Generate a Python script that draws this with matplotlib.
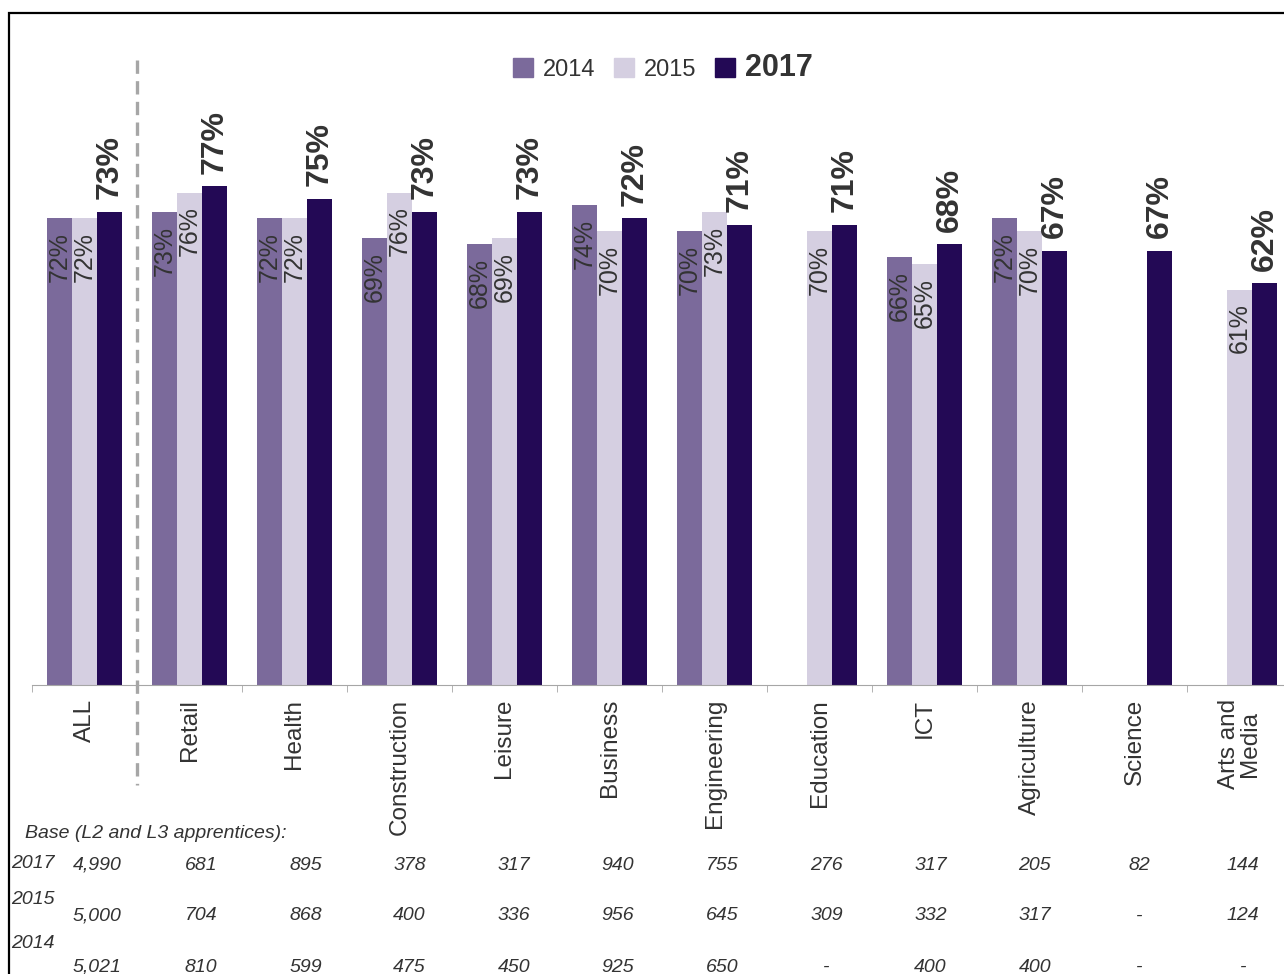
import matplotlib
matplotlib.use("Agg")
import matplotlib.pyplot as plt
import numpy as np
from matplotlib.patches import Rectangle, Patch

plt.rcParams['font.family'] = ['Liberation Sans', 'DejaVu Sans']

# data
categories = ['ALL', 'Retail', 'Health', 'Construction', 'Leisure', 'Business',
              'Engineering', 'Education', 'ICT', 'Agriculture', 'Science', 'Arts and\nMedia']
pct_2014 = [72, 73, 72, 69, 68, 74, 70, np.nan, 66, 72, np.nan, np.nan]
pct_2015 = [72, 76, 72, 76, 69, 70, 73, 70, 65, 70, np.nan, 61]
pct_2017 = [73, 77, 75, 73, 73, 72, 71, 71, 68, 67, 67, 62]
base_2017 = ['4,990', '681', '895', '378', '317', '940', '755', '276', '317', '205', '82', '144']
base_2015 = ['5,000', '704', '868', '400', '336', '956', '645', '309', '332', '317', '-', '124']
base_2014 = ['5,021', '810', '599', '475', '450', '925', '650', '-', '400', '400', '-', '-']

c14, c15, c17 = '#7b6a9b', '#d5cfe1', '#230955'
txt = '#333333'

W, H = 1284, 974
fig = plt.figure(figsize=(W / 100, H / 100), dpi=100)

# black frame, runs off the right and bottom edges
fig.patches.append(Rectangle((9 / W, -0.05), 1.1, 1 - 13 / H + 0.05, transform=fig.transFigure,
                             fill=False, edgecolor='black', linewidth=1.6, zorder=0))

ax = fig.add_axes([32 / W, 1 - 685 / H, 1260 / W, 648 / H])
x = np.arange(len(categories))
bw = 0.238

ax.bar(x - bw, pct_2014, bw, color=c14)
ax.bar(x, pct_2015, bw, color=c15)
ax.bar(x + bw, pct_2017, bw, color=c17)

for xs, vals in ((x - bw, pct_2014), (x, pct_2015)):
    for xi, v in zip(xs, vals):
        if np.isnan(v):
            continue
        ax.annotate(f'{v:.0f}%', (xi, v), xytext=(0, -10), textcoords='offset points',
                    rotation=90, ha='center', va='top', fontsize=18, color=txt)
for xi, v in zip(x + bw, pct_2017):
    ax.annotate(f'{v:.0f}%', (xi, v), xytext=(0, 9), textcoords='offset points',
                rotation=90, ha='center', va='bottom', fontsize=23, fontweight='bold', color=txt)

ax.set_xlim(-0.5, len(categories) - 0.5)
ax.set_ylim(0, 100)
for s in ('top', 'right', 'left'):
    ax.spines[s].set_visible(False)
ax.spines['bottom'].set_color('#a6a6a6')
ax.set_yticks([])
ax.set_xticks(x)
ax.set_xticklabels(categories, rotation=90, fontsize=17.5, color=txt, linespacing=0.95)
ax.tick_params(axis='x', length=0, pad=10)
ax.set_xticks(np.arange(-0.5, len(categories)), minor=True)
ax.tick_params(axis='x', which='minor', length=5, color='#a6a6a6')

# dashed separator between ALL and sectors
ax.plot([0.5, 0.5], [96.4, -15.4], color='#a6a6a6', linewidth=2.4,
        linestyle=(0, (4, 2.2)), clip_on=False)

# legend
handles = [Patch(color=c14), Patch(color=c15), Patch(color=c17)]
leg = fig.legend(handles, ['2014', '2015', '2017'], loc='center', ncol=3,
                 bbox_to_anchor=(663 / W, 1 - 68 / H), frameon=False, fontsize=17,
                 handlelength=0.85, handleheight=0.85, handletextpad=0.4, columnspacing=0.8)
for t in leg.get_texts():
    t.set_color(txt)
leg.get_texts()[2].set_fontweight('bold')
leg.get_texts()[2].set_fontsize(22)

# base sizes table
fs = 14
fig.text(25 / W, 1 - 833 / H, 'Base (L2 and L3 apprentices):', fontsize=fs, style='italic',
         color=txt, va='center')
rows = [('2017', base_2017, 864, 865), ('2015', base_2015, 900, 916), ('2014', base_2014, 943, 967)]
for year, vals, ly, vy in rows:
    fig.text(11 / W, 1 - ly / H, year, fontsize=fs, style='italic', color=txt, va='center')
    for xi, v in zip(x, vals):
        px = 97 + xi * 104.2
        fig.text(px / W, 1 - vy / H, v, fontsize=fs, style='italic', color=txt,
                 ha='center', va='center')

fig.savefig('out.png', dpi=100)
